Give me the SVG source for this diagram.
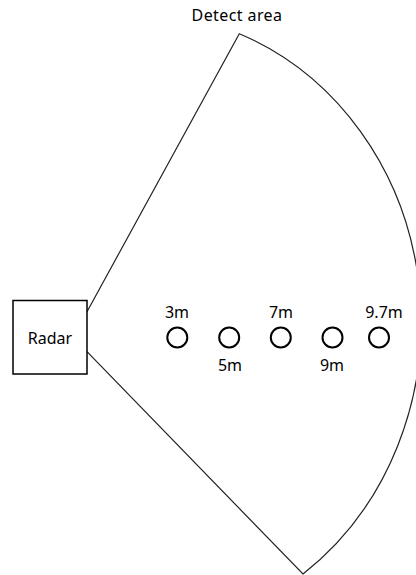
<svg xmlns="http://www.w3.org/2000/svg" width="416" height="575" viewBox="0 0 416 575">
<style>
.ln{fill:none;stroke:#222;stroke-width:1.2}
.tg{fill:none;stroke:#000;stroke-width:2}
.tx{font-family:"Noto Sans","DejaVu Sans",sans-serif;font-size:16px;fill:#000;text-anchor:middle}
</style>
<rect width="416" height="575" fill="#fff"/>
<g id="connectors">
<path class="ln" d="M87,311.7 L239.3,33.7 A285,310 0 0 1 303,574 L87,351.7"/>
</g>
<g id="radar">
<rect x="13" y="300.5" width="74" height="73.5" fill="#fff" stroke="#000" stroke-width="1.5"/>
<text class="tx" x="50" y="344">Radar</text>
</g>
<g id="detect-area">
<text class="tx" x="237" y="21" style="letter-spacing:0.4px">Detect area</text>
</g>
<g id="t3"><circle class="tg" cx="177.3" cy="337.5" r="10"/><text class="tx" x="177" y="318">3m</text></g>
<g id="t5"><circle class="tg" cx="229.2" cy="337.5" r="10"/><text class="tx" x="230" y="371">5m</text></g>
<g id="t7"><circle class="tg" cx="280.8" cy="337.5" r="10"/><text class="tx" x="281" y="318">7m</text></g>
<g id="t9"><circle class="tg" cx="332.5" cy="337.5" r="10"/><text class="tx" x="332" y="371">9m</text></g>
<g id="t97"><circle class="tg" cx="379" cy="337.5" r="10"/><text class="tx" x="384" y="318">9.7m</text></g>
</svg>
